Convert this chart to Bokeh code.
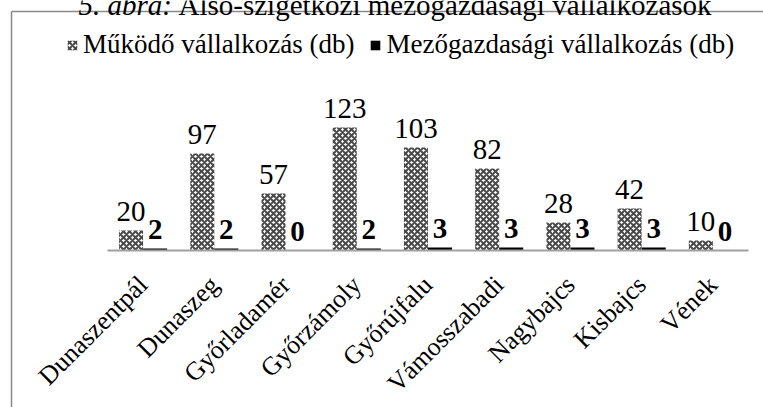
import math
from bokeh.plotting import figure
from bokeh.models import Range1d, Legend, LegendItem, ColumnDataSource
from bokeh.core.properties import value
from bokeh.embed import file_html
from bokeh.resources import INLINE

# ---- data ----
categories = ["Dunaszentpál", "Dunaszeg", "Győrladamér", "Győrzámoly", "Győrújfalu",
              "Vámosszabadi", "Nagybajcs", "Kisbajcs", "Vének"]
mukodo = [20, 97, 57, 123, 103, 82, 28, 42, 10]
mezogazdasagi = [2, 2, 0, 2, 3, 3, 3, 3, 0]
series_names = ["Működő vállalkozás (db)", "Mezőgazdasági vállalkozás (db)"]
title_italic = "5. ábra:"
title_rest = "Alsó-szigetközi mezőgazdasági vállalkozások"

# ---- layout constants ----
W, H = 763, 407
GROUP_PX = 71.22
AXIS_LEFT_PX = 107      # canvas x of category axis start
AXIS_Y_PX = 250         # canvas y (from top) of the axis line
BAR_W = 0.337
OFF = 0.169
FONT = "Liberation Serif"

n = len(categories)
x_start = -AXIS_LEFT_PX / GROUP_PX
x_end = x_start + W / GROUP_PX
y_end = AXIS_Y_PX
y_start = AXIS_Y_PX - H

p = figure(width=W, height=H, output_backend="svg", toolbar_location=None,
           x_axis_location=None, y_axis_location=None,
           x_range=Range1d(x_start, x_end), y_range=Range1d(y_start, y_end),
           min_border=0, outline_line_color=None, background_fill_color="white",
           border_fill_color="white")
p.grid.visible = False

centers = [i + 0.5 for i in range(n)]
src = ColumnDataSource(dict(
    cat=categories,
    xc=centers,
    xa=[c - OFF for c in centers],
    xb=[c + OFF for c in centers],
    a=mukodo,
    b=mezogazdasagi,
    a_lab=[str(v) for v in mukodo],
    b_lab=[str(v) for v in mezogazdasagi],
    a_ly=[v + 19 for v in mukodo],
    b_ly=[v + 19 for v in mezogazdasagi],
    cat_y=[-30] * n,
))

# chart-area box (left and top edges visible)
box_left = x_start + 11 / GROUP_PX
box_top = y_end - 11
p.segment(x0=[box_left, box_left], y0=[y_start - 10, box_top],
          x1=[box_left, x_end + 1], y1=[box_top, box_top],
          line_color="#8a8a8a", line_width=1.5)

r1 = p.vbar(x="xa", top="a", bottom=0, width=BAR_W, source=src,
            fill_color="white", line_color=None,
            hatch_pattern="diagonal_cross", hatch_color="#4a4a4a",
            hatch_scale=6, hatch_weight=2)
r2 = p.vbar(x="xb", top="b", bottom=0, width=BAR_W, source=src,
            fill_color="black", line_color=None)

# category axis line
p.segment(x0=[0], y0=[0], x1=[n], y1=[0], line_color="#a0a0a0", line_width=2)

# value labels
p.text(x="xa", y="a_ly", text="a_lab", source=src, text_font=value(FONT),
       text_font_size="29px", text_align="center", text_baseline="alphabetic",
       text_color="black")
p.text(x="xb", y="b_ly", text="b_lab", source=src, text_font=value(FONT),
       text_font_size="29px", text_font_style="bold", text_align="center",
       text_baseline="alphabetic", text_color="black")

# category labels (rotated)
p.text(x="xc", y="cat_y", text="cat", source=src, text_font=value(FONT),
       text_font_size="26px", text_align="right", text_baseline="middle",
       angle=math.pi / 4, text_color="black")

# title (clipped at the top of the picture, as in the original)
title_left = x_start + 78 / GROUP_PX
title_rest_left = x_start + 178 / GROUP_PX
p.text(x=[title_left], y=[y_end - 4], text=[title_italic],
       text_font=value(FONT), text_font_size="29px", text_font_style="italic",
       text_align="left", text_baseline="alphabetic", text_color="black")
p.text(x=[title_rest_left], y=[y_end - 4], text=[title_rest],
       text_font=value(FONT), text_font_size="29px", text_align="left",
       text_baseline="alphabetic", text_color="black")

legend = Legend(items=[LegendItem(label=series_names[0], renderers=[r1]),
                       LegendItem(label=series_names[1], renderers=[r2])],
                orientation="horizontal", location=(66, 347),
                label_text_font=FONT, label_text_font_size="27px",
                label_text_color="black",
                glyph_width=12, glyph_height=12, label_standoff=5, spacing=15,
                padding=0, margin=0, border_line_color=None,
                background_fill_alpha=0)
p.add_layout(legend)

open("out.html", "w").write(file_html(p, INLINE))
